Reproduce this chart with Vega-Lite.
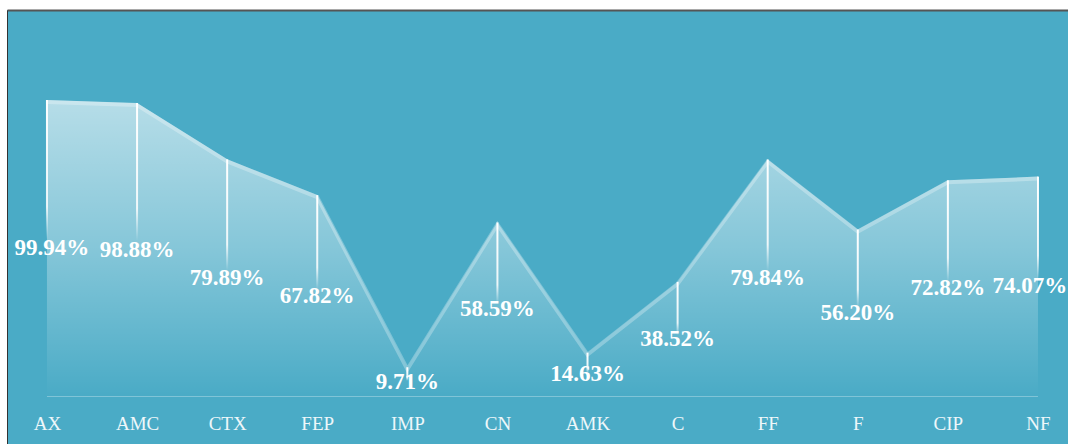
{
  "$schema": "https://vega.github.io/schema/vega-lite/v6.json",
  "autosize": {"type": "none"},
  "width": 1061,
  "height": 434,
  "padding": {"left": 7, "top": 10, "right": 0, "bottom": 0},
  "background": "white",
  "config": {"view": {"fill": "#4AABC6", "stroke": null}},
  "data": {"values": [
    {"name": "AX", "value": 99.94, "label": "99.94%"},
    {"name": "AMC", "value": 98.88, "label": "98.88%"},
    {"name": "CTX", "value": 79.89, "label": "79.89%"},
    {"name": "FEP", "value": 67.82, "label": "67.82%"},
    {"name": "IMP", "value": 9.71, "label": "9.71%"},
    {"name": "CN", "value": 58.59, "label": "58.59%"},
    {"name": "AMK", "value": 14.63, "label": "14.63%"},
    {"name": "C", "value": 38.52, "label": "38.52%"},
    {"name": "FF", "value": 79.84, "label": "79.84%"},
    {"name": "F", "value": 56.20, "label": "56.20%"},
    {"name": "CIP", "value": 72.82, "label": "72.82%"},
    {"name": "NF", "value": 74.07, "label": "74.07%"}
  ]},
  "resolve": {"scale": {"y": "independent"}, "axis": {"x": "independent", "y": "independent"}},
  "layer": [
    {
      "encoding": {
        "x": {
          "field": "name", "type": "nominal", "sort": null,
          "scale": {"type": "point", "padding": 0.3885, "align": 0.571,
            "domain": ["AX","AMC","CTX","FEP","IMP","CN","AMK","C","FF","F","CIP","NF"]},
          "axis": {"orient": "bottom", "title": null, "domain": false, "ticks": false, "tickSize": 0,
            "grid": false, "offset": -21, "labelPadding": 0, "labelBaseline": "middle",
            "labelFont": "Liberation Serif", "labelFontSize": 19, "labelColor": "#EEF7FA", "labelAngle": 0}
        },
        "y": {
          "field": "value", "type": "quantitative",
          "scale": {"domain": [-16.21, 130.32], "nice": false, "zero": false},
          "axis": {"orient": "left", "title": null, "labels": false, "ticks": false, "grid": false,
            "domain": true, "domainColor": "#333333", "domainWidth": 1}
        }
      },
      "layer": [
        {
          "mark": {"type": "area", "interpolate": "linear",
            "fill": {"gradient": "linear", "x1": 0, "y1": 0, "x2": 0, "y2": 1,
              "stops": [
                {"offset": 0, "color": "rgba(255,255,255,0.6)"},
                {"offset": 0.5, "color": "rgba(255,255,255,0.33)"},
                {"offset": 1, "color": "rgba(255,255,255,0.0)"}
              ]}},
          "encoding": {"y2": {"datum": 0}}
        },
        {
          "mark": {"type": "line", "color": "rgba(255,255,255,0.28)", "strokeWidth": 4, "yOffset": 2},
          "encoding": {}
        },
        {
          "mark": {"type": "bar", "width": 2,
            "fill": {"gradient": "linear", "x1": 0, "y1": 0, "x2": 0, "y2": 1,
              "stops": [
                {"offset": 0, "color": "rgba(255,255,255,1)"},
                {"offset": 0.36, "color": "rgba(255,255,255,0.85)"},
                {"offset": 0.47, "color": "rgba(255,255,255,0)"},
                {"offset": 1, "color": "rgba(255,255,255,0)"}
              ]}},
          "encoding": {"y2": {"datum": 0}}
        },
        {
          "transform": [{"filter": "datum.name == 'AX'"}],
          "mark": {"type": "rule", "color": "white", "opacity": 0.3, "strokeWidth": 1, "yOffset": 0.5},
          "encoding": {
            "x": {"datum": "AX"},
            "x2": {"datum": "NF"},
            "y": {"datum": 0}
          }
        }
      ]
    },
    {
      "encoding": {
        "x": {"field": "name", "type": "nominal", "sort": null,
          "axis": {"orient": "top", "title": null, "labels": false, "ticks": false, "grid": false,
            "domain": true, "domainColor": "#555555", "domainWidth": 2}},
        "y": {"field": "value", "type": "quantitative",
          "scale": {"domain": [-32.42, 260.64], "nice": false, "zero": false}, "axis": null},
        "text": {"field": "label"}
      },
      "layer": [
        {
          "transform": [{"filter": "datum.name != 'AX' && datum.name != 'NF'"}],
          "mark": {"type": "text", "font": "Liberation Serif", "fontWeight": "bold", "fontSize": 23,
            "color": "white", "baseline": "middle", "align": "center"}
        },
        {
          "transform": [{"filter": "datum.name == 'AX'"}],
          "mark": {"type": "text", "font": "Liberation Serif", "fontWeight": "bold", "fontSize": 23,
            "color": "white", "baseline": "middle", "align": "center", "dx": 5}
        },
        {
          "transform": [{"filter": "datum.name == 'NF'"}],
          "mark": {"type": "text", "font": "Liberation Serif", "fontWeight": "bold", "fontSize": 23,
            "color": "white", "baseline": "middle", "align": "center", "dx": -8}
        }
      ]
    }
  ]
}
